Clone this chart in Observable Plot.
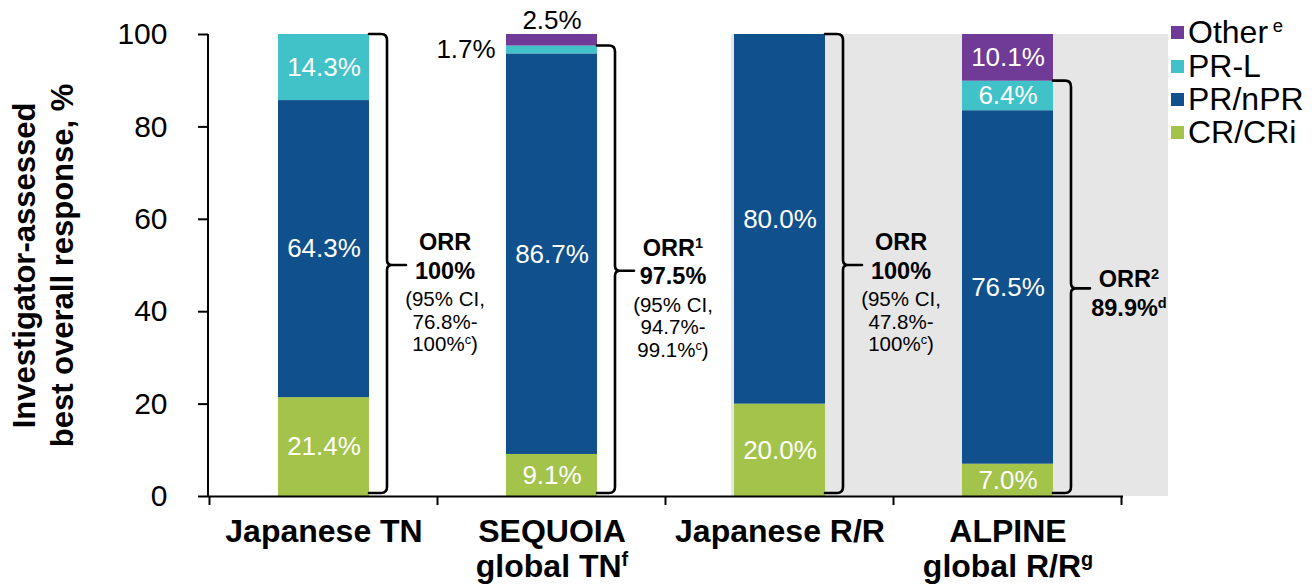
<!DOCTYPE html>
<html>
<head>
<meta charset="utf-8">
<script src="https://cdn.jsdelivr.net/npm/d3@7"></script>
<script src="https://cdn.jsdelivr.net/npm/@observablehq/plot@0.6"></script>
<style>
  body { margin: 0; background: #fff; }
  #wrap { position: relative; width: 1313px; height: 587px; font-family: "Liberation Sans", Arial, sans-serif; }
  #legend { position: absolute; left: 1171px; top: 16px; }
  .item { display: flex; align-items: center; height: 33.4px; font-size: 32px; color: #000; white-space: nowrap; }
  .sw { width: 13px; height: 13px; margin-right: 4px; flex: none; }
  .item sup { font-size: 58%; line-height: 0; vertical-align: 0.6em; margin-left: 0.25em; }
</style>
</head>
<body>
<div id="wrap"><div id="legend"></div></div>
<script>
// ---------- data ----------
const categories = ["Japanese TN", "SEQUOIA global TN", "Japanese R/R", "ALPINE global R/R"];
const categoryLabels = ["Japanese TN", "SEQUOIA\nglobal TN^f", "Japanese R/R", "ALPINE\nglobal R/R^g"];
const responses = ["CR/CRi", "PR/nPR", "PR-L", "Other"];
const legendLabels = ["CR/CRi", "PR/nPR", "PR-L", "Other^e"];
const responseColors = ["#A3C34B", "#10508C", "#41C2C9", "#6F3B97"];
const crCri = [21.4, 9.1, 20.0, 7.0];
const prNpr = [64.3, 86.7, 80.0, 76.5];
const prL = [14.3, 1.7, 0, 6.4];
const other = [0, 2.5, 0, 10.1];
const orrValues = [100, 97.5, 100, 89.9];
const orrTitles = ["ORR", "ORR^1", "ORR", "ORR^2"];
const orrRateLabels = ["100%", "97.5%", "100%", "89.9%^d"];
const orrCI = ["(95% CI,\n76.8%-\n100%^c)", "(95% CI,\n94.7%-\n99.1%^c)", "(95% CI,\n47.8%-\n100%^c)", null];
const yTicks = [0, 20, 40, 60, 80, 100];
const yTitle = "Investigator-assessed\nbest overall response, %";
const shadedCategory = "Japanese R/R";

// ---------- derived tables ----------
const series = [crCri, prNpr, prL, other];
const segments = [];
categories.forEach((c, i) => {
  let base = 0;
  const nz = series.map((s, k) => (s[i] > 0 ? k : -1)).filter(k => k >= 0);
  const topK = Math.max(...nz);
  series.forEach((s, k) => {
    const v = s[i];
    if (v > 0) {
      const small = v < 5;
      segments.push({
        category: c, response: responses[k], value: v,
        y1: base, y2: base + v, mid: base + v / 2,
        label: v.toFixed(1) + "%",
        place: !small ? "inside" : (k === topK ? "above" : "left")
      });
    }
    base += v;
  });
});
const orr = categories.map((c, i) => ({
  category: c, orr: orrValues[i], mid: orrValues[i] / 2,
  head: orrTitles[i] + "\n" + orrRateLabels[i], ci: orrCI[i]
}));

// ---------- custom marks ----------
function bandInfo(x, dims) {
  const n = categories.length;
  const step = typeof x.step === "function" ? x.step() : (dims.width - dims.marginLeft - dims.marginRight) / n;
  const bw = typeof x.bandwidth === "function" ? x.bandwidth() : step * 0.4;
  return {step, bw};
}
function braces(index, scales, values, dims) {
  const {x, y} = scales;
  const {bw} = bandInfo(x, dims);
  const g = d3.create("svg:g").attr("fill", "none").attr("stroke", "#000")
    .attr("stroke-width", 2.6).attr("stroke-linejoin", "round").attr("stroke-linecap", "round");
  for (const d of orr) {
    const x0 = x(d.category) + bw;
    const xv = x0 + 18, xt = xv + 19;
    const yT = y(d.orr), yB = y(0) - 3, ym = y(d.mid);
    const r = 6, r2 = 5;
    const p = d3.path();
    p.moveTo(x0, yT); p.lineTo(xv - r, yT); p.quadraticCurveTo(xv, yT, xv, yT + r);
    p.lineTo(xv, ym - r2); p.quadraticCurveTo(xv, ym, xv + r2, ym); p.lineTo(xt, ym);
    p.moveTo(xv + r2, ym); p.quadraticCurveTo(xv, ym, xv, ym + r2);
    p.lineTo(xv, yB - r); p.quadraticCurveTo(xv, yB, xv - r, yB); p.lineTo(x0, yB);
    g.append("path").attr("d", p.toString());
  }
  return g.node();
}
function axisLines(index, scales, values, dims) {
  const {x, y} = scales;
  const {step, bw} = bandInfo(x, dims);
  const pad = (step - bw) / 2;
  const g = d3.create("svg:g").attr("stroke", "#000").attr("stroke-width", 2);
  const y0 = y(0);
  const xs = categories.map(c => x(c) - pad);
  xs.push(x(categories[categories.length - 1]) + bw + pad);
  for (const bx of xs) g.append("line").attr("x1", bx).attr("x2", bx).attr("y1", y0).attr("y2", y0 + 9);
  g.append("line").attr("x1", dims.marginLeft).attr("x2", dims.marginLeft).attr("y1", y(100)).attr("y2", y0);
  return g.node();
}

// ---------- plot ----------
const chart = Plot.plot({
  width: 1313,
  height: 587,
  marginLeft: 208,
  marginRight: 190,
  marginTop: 34,
  marginBottom: 91,
  style: {fontFamily: '"Liberation Sans", Arial, sans-serif', fontSize: "26px", background: "transparent", overflow: "visible", color: "#000"},
  x: {domain: categories, paddingInner: 0.6, paddingOuter: 0.3, axis: null},
  y: {domain: [0, 100], axis: null},
  color: {domain: responses, range: responseColors},
  marks: [
    Plot.barY([shadedCategory], {x: d => d, y1: 0, y2: 100, fill: "#E6E6E6", insetLeft: -3, insetRight: -343}),
    Plot.barY(segments, {x: "category", y1: "y1", y2: "y2", fill: "response"}),
    Plot.text(segments.filter(d => d.place === "inside"), {x: "category", y: "mid", text: "label", fill: "#fff", fontSize: 26}),
    Plot.text(segments.filter(d => d.place === "left"), {x: "category", y: "mid", text: "label", fill: "#000", fontSize: 26, dx: -86}),
    Plot.text(segments.filter(d => d.place === "above"), {x: "category", y: "y2", text: "label", fill: "#000", fontSize: 26, dy: -14}),
    Plot.ruleY([0], {stroke: "#000", strokeWidth: 2}),
    braces,
    axisLines,
    Plot.text(orr.filter(d => d.ci), {x: "category", y: "mid", text: "head", dx: 121, dy: -10, fontSize: 23.5, fontWeight: "bold", lineHeight: 1.2}),
    Plot.text(orr.filter(d => d.ci), {x: "category", y: "mid", text: "ci", dx: 121, dy: 56, fontSize: 20.5, lineHeight: 1.1}),
    Plot.text(orr.filter(d => !d.ci), {x: "category", y: "mid", text: "head", dx: 121, dy: 3, fontSize: 23.5, fontWeight: "bold", lineHeight: 1.25}),
    Plot.axisY({ticks: yTicks, tickSize: 10, tickPadding: 31, fontSize: 30, strokeWidth: 2, label: null}),
    Plot.text(categories, {x: d => d, text: (d, i) => categoryLabels[i], frameAnchor: "bottom", lineAnchor: "top", dy: 20, fontSize: 32, fontWeight: "bold", lineHeight: 1.1}),
    Plot.text([yTitle], {frameAnchor: "left", text: d => d, rotate: -90, textAnchor: "middle", lineAnchor: "middle", dx: -167, fontSize: 31, fontWeight: "bold", lineHeight: 1.22})
  ]
});

// superscripts: "^x" -> raised small tspan
function supify(root) {
  const walker = document.createTreeWalker(root, NodeFilter.SHOW_TEXT);
  const nodes = [];
  while (walker.nextNode()) nodes.push(walker.currentNode);
  for (const node of nodes) {
    if (!node.nodeValue.includes("^")) continue;
    const parts = node.nodeValue.split(/\^(\S)/);
    const frag = document.createDocumentFragment();
    parts.forEach((p, i) => {
      if (!p) return;
      if (i % 2) {
        const t = document.createElementNS("http://www.w3.org/2000/svg", "tspan");
        t.setAttribute("baseline-shift", "super");
        t.setAttribute("style", "font-size:0.62em");
        t.textContent = p;
        frag.append(t);
      } else frag.append(document.createTextNode(p));
    });
    node.replaceWith(frag);
  }
}
supify(chart);
document.getElementById("wrap").prepend(chart);

// legend (top-right, reverse stacking order)
const legend = d3.select("#legend");
for (let k = responses.length - 1; k >= 0; k--) {
  const item = legend.append("div").attr("class", "item");
  item.append("div").attr("class", "sw").style("background", responseColors[k]);
  const [main, sup] = legendLabels[k].split("^");
  const span = item.append("span").text(main);
  if (sup) span.append("sup").text(sup);
}
</script>
</body>
</html>
